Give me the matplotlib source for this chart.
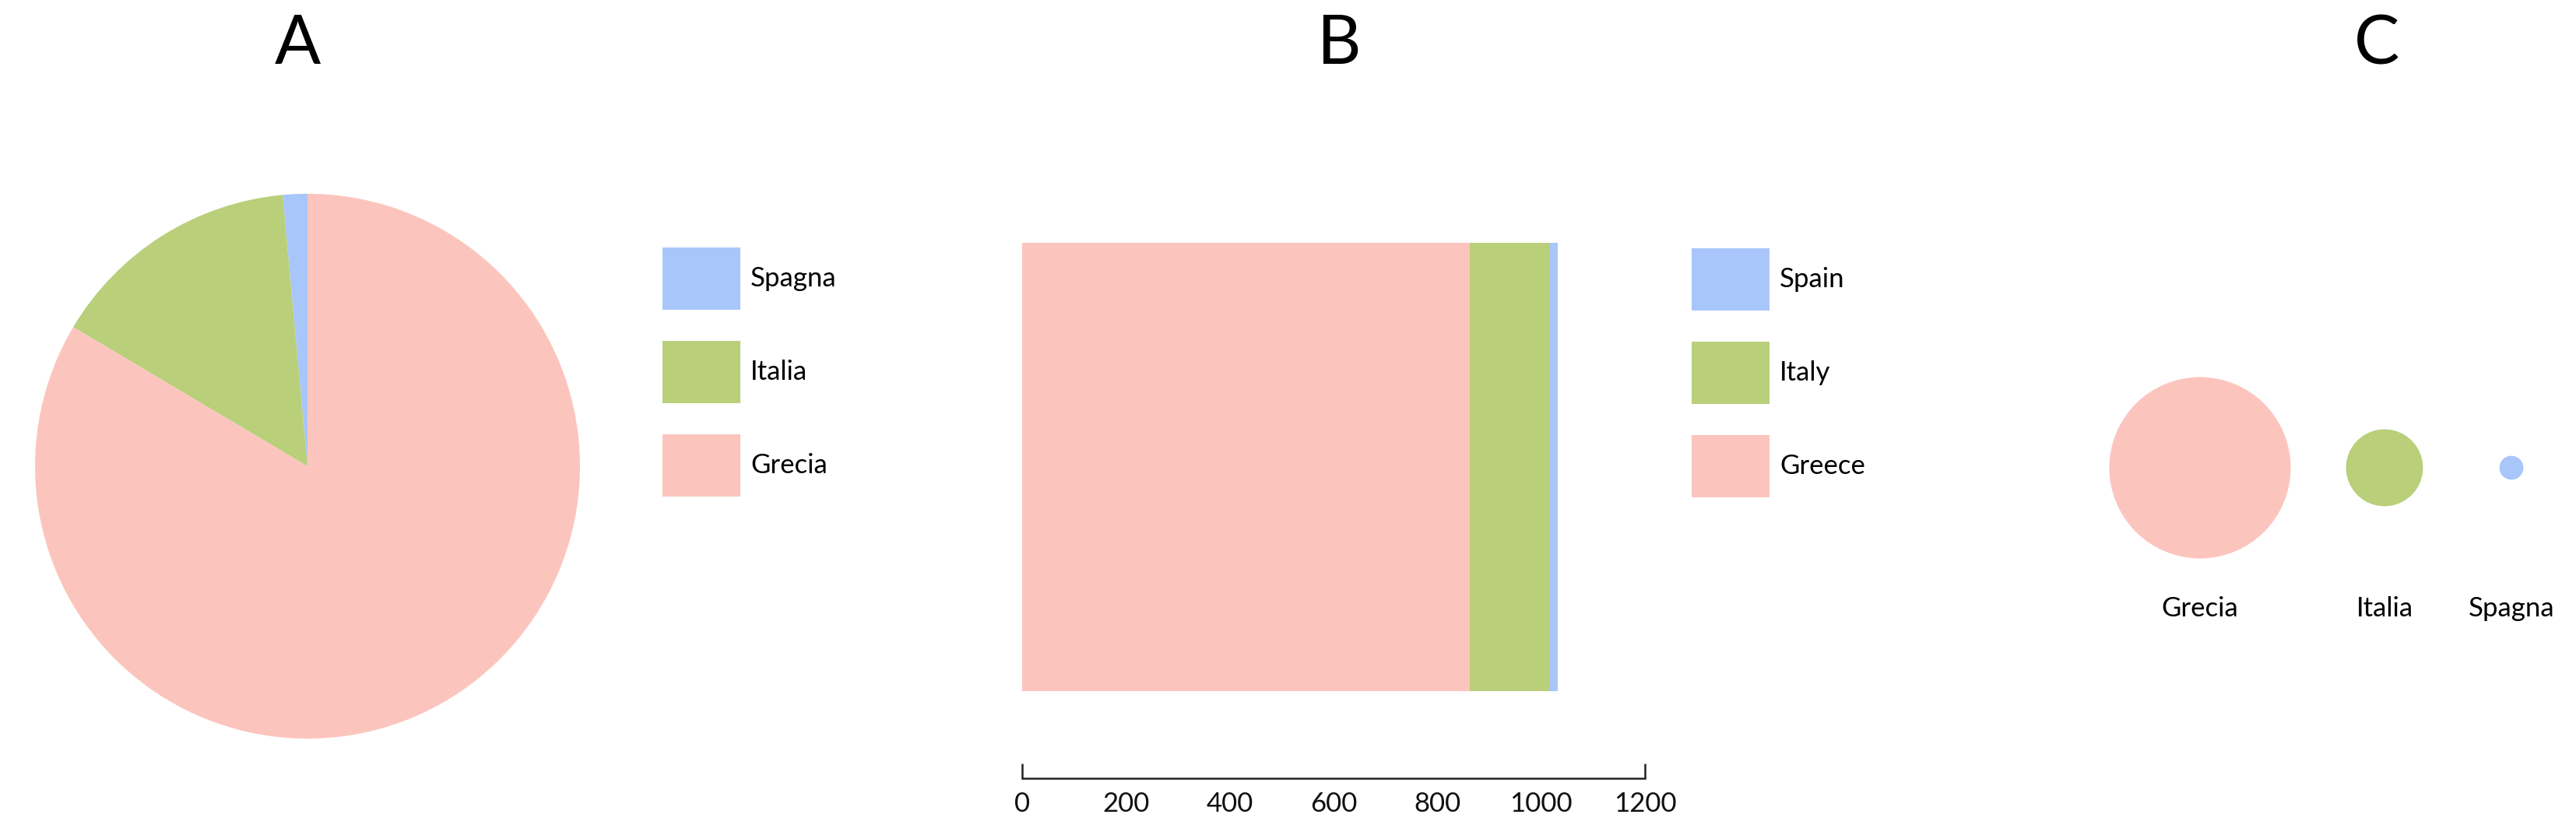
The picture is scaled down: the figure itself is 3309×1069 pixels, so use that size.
import matplotlib
matplotlib.use("Agg")
import matplotlib.pyplot as plt
import numpy as np

plt.rcParams['font.family'] = ['Lato', 'DejaVu Sans']

# data
countries_it = ["Spagna", "Italia", "Grecia"]
countries_en = ["Spain", "Italy", "Greece"]
values = [15, 155, 862]          # Spain, Italy, Greece
colors = ["#a8c6fa", "#b9cf7a", "#fbc5bd"]
bar_ticks = [0, 200, 400, 600, 800, 1000, 1200]
bubble_order = ["Grecia", "Italia", "Spagna"]
bubble_values = [862, 155, 15]
bubble_colors = ["#fbc5bd", "#b9cf7a", "#a8c6fa"]

W, H = 3309, 1069
DPI = 100
FS = 25
PX = 72.0 / DPI   # points per pixel


def box(x0, y0, x1, y1):
    """pixel box (top-left origin) -> figure fraction rect"""
    return [x0 / W, 1 - y1 / H, (x1 - x0) / W, (y1 - y0) / H]


def legend_at(fig, handles, labels, x, y):
    em = FS / PX  # font size in pixels
    # legend patch height = fs*(0.65*hh + 0.245) in matplotlib
    hh = (80 / em - 0.245) / 0.65
    fig.legend(handles, labels, loc="upper left",
               bbox_to_anchor=(x / W, 1 - y / H), bbox_transform=fig.transFigure,
               frameon=False, borderpad=0, borderaxespad=0, fontsize=FS,
               handlelength=100 / em, handleheight=hh,
               labelspacing=40 / em, handletextpad=13 / em)


fig = plt.figure(figsize=(W / DPI, H / DPI), dpi=DPI)

# A: pie
ax_a = fig.add_axes(box(45, 249, 745, 949))
wedges, _ = ax_a.pie(values, colors=colors, startangle=90, counterclock=True,
                     radius=1, wedgeprops={"linewidth": 0})
ax_a.set_xlim(-1, 1)
ax_a.set_ylim(-1, 1)
ax_a.set_aspect("equal")
ax_a.axis("off")
legend_at(fig, wedges, countries_it, 851, 318)

# B: stacked horizontal bar
ax_b = fig.add_axes(box(1313, 312, 2113, 888))
lefts = np.concatenate([[0], np.cumsum(values[::-1])[:-1]])
bars = []
for v, l, c, lab in zip(values[::-1], lefts, colors[::-1], countries_en[::-1]):
    bars.append(ax_b.barh(0, v, left=l, height=1, color=c, linewidth=0, label=lab))
ax_b.set_xlim(0, 1200)
ax_b.set_ylim(-0.5, 0.5)
for s in ("top", "right", "left"):
    ax_b.spines[s].set_visible(False)
ax_b.spines["bottom"].set_position(("outward", 112 * PX))
ax_b.spines["bottom"].set_linewidth(1.8)
ax_b.spines["bottom"].set_color("#222222")
ax_b.set_yticks([])
ax_b.xaxis.remove_overlapping_locs = False
ax_b.set_xticks(bar_ticks)
ax_b.set_xticks([bar_ticks[0], bar_ticks[-1]], minor=True)
ax_b.tick_params(axis="x", which="major", length=0, pad=17 * PX, labelsize=FS,
                 colors="#111111")
ax_b.tick_params(axis="x", which="minor", direction="in", length=19 * PX, width=1.8,
                 color="#222222")
legend_at(fig, [b[0] for b in bars[::-1]], countries_en, 2173, 319)

# C: bubbles, area proportional to value
ax_c = fig.add_axes(box(2600, 0, 3309, 1069))
ax_c.set_xlim(2600, 3309)
ax_c.set_ylim(1069, 0)
ax_c.axis("off")
slot_x = [2826, 3063, 3226]
row_y = 601
r_max = 116.5
radii = r_max * np.sqrt(np.array(bubble_values) / max(bubble_values))
ax_c.scatter(slot_x, [row_y] * 3, s=(2 * radii * PX) ** 2, c=bubble_colors,
             linewidths=0)
for x, name in zip(slot_x, bubble_order):
    ax_c.text(x, row_y + 181, name, ha="center", va="center", fontsize=FS)

# panel letters
for x, t in zip([382, 1720, 3053], ["A", "B", "C"]):
    fig.text(x / W, 1 - 58 / H, t, ha="center", va="center", fontsize=63)

fig.savefig("out.png", dpi=DPI)
